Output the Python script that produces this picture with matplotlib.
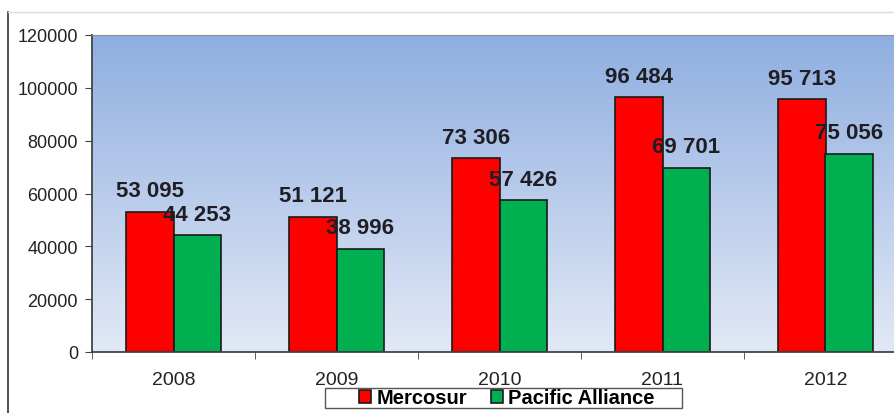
import matplotlib.pyplot as plt
import matplotlib.lines as mlines
import matplotlib.patches as mpatches
import numpy as np

years = ["2008", "2009", "2010", "2011", "2012"]
mercosur = [53095, 51121, 73306, 96484, 95713]
pacific = [44253, 38996, 57426, 69701, 75056]

plt.rcParams['font.family'] = ['Liberation Sans', 'DejaVu Sans']

fig = plt.figure(figsize=(8.95, 4.14), dpi=100)
ax = fig.add_axes([92/895, 61/414, 815/895, 317/414])

x = np.arange(len(years))
w = 0.29

# gradient background: blue at top fading to pale at bottom
grad = np.linspace(0, 1, 256).reshape(-1, 1)
top = np.array([143, 174, 224]) / 255
bot = np.array([226, 233, 246]) / 255
img = bot + (top - bot) * grad
ax.imshow(img.reshape(256, 1, 3), extent=[-0.5, 4.5, 0, 120000], origin='lower',
          aspect='auto', zorder=0)

ax.bar(x - w/2, mercosur, w, color="#ff0000", edgecolor="#1a1a1a", linewidth=1.2,
       label="Mercosur", zorder=2)
ax.bar(x + w/2, pacific, w, color="#00b050", edgecolor="#1a1a1a", linewidth=1.2,
       label="Pacific Alliance", zorder=2)

def fmt(v):
    return "{:,}".format(v).replace(",", " ")

for i in range(len(years)):
    ax.annotate(fmt(mercosur[i]), (x[i] - w/2, mercosur[i]), xytext=(0, 21),
                textcoords="offset pixels", ha="center", va="center",
                fontsize=16, fontweight="bold", color="#1e1e24", zorder=3)
    ax.annotate(fmt(pacific[i]), (x[i] + w/2, pacific[i]), xytext=(0, 21),
                textcoords="offset pixels", ha="center", va="center",
                fontsize=16, fontweight="bold", color="#1e1e24", zorder=3)

ax.set_xlim(-0.5, 4.5)
ax.set_ylim(0, 120000)
ax.set_yticks(range(0, 120001, 20000))
ax.set_xticks(x)
ax.set_xticklabels(years)
ax.set_xticks(np.arange(-0.5, 4.6, 1), minor=True)
ax.tick_params(axis='x', which='major', length=0, labelsize=14, pad=14, colors="#222222")
ax.tick_params(axis='x', which='minor', length=5, direction='out', color="#444444")
ax.tick_params(axis='y', length=5, labelsize=13, pad=5, colors="#222222", color="#444444")

ax.spines["right"].set_visible(False)
ax.spines["left"].set_color("#444444")
ax.spines["bottom"].set_color("#444444")
ax.spines["top"].set_color("#8a8f99")
ax.spines["left"].set_linewidth(1.3)
ax.spines["bottom"].set_linewidth(1.3)

leg = ax.legend(loc="center", bbox_to_anchor=(507/895, 15/414),
                bbox_transform=fig.transFigure, ncol=2, frameon=False,
                prop={'weight': 'bold', 'size': 14.5}, handlelength=0.6,
                handleheight=0.6, handletextpad=0.25, columnspacing=1.2,
                borderpad=0.1, borderaxespad=0)

# legend box is wider than its entries
fig.add_artist(mpatches.Rectangle((325/895, 5/414), 357/895, 20/414, fill=False,
                                  edgecolor="#555555", linewidth=1.0,
                                  transform=fig.transFigure))

# outer chart frame
fig.add_artist(mlines.Line2D([8/895, 8/895], [0, 401/414], color="#333333", lw=1.2))
fig.add_artist(mlines.Line2D([8/895, 1], [401/414, 401/414], color="#dddddd", lw=1.0))

fig.savefig("out.png", dpi=100)
